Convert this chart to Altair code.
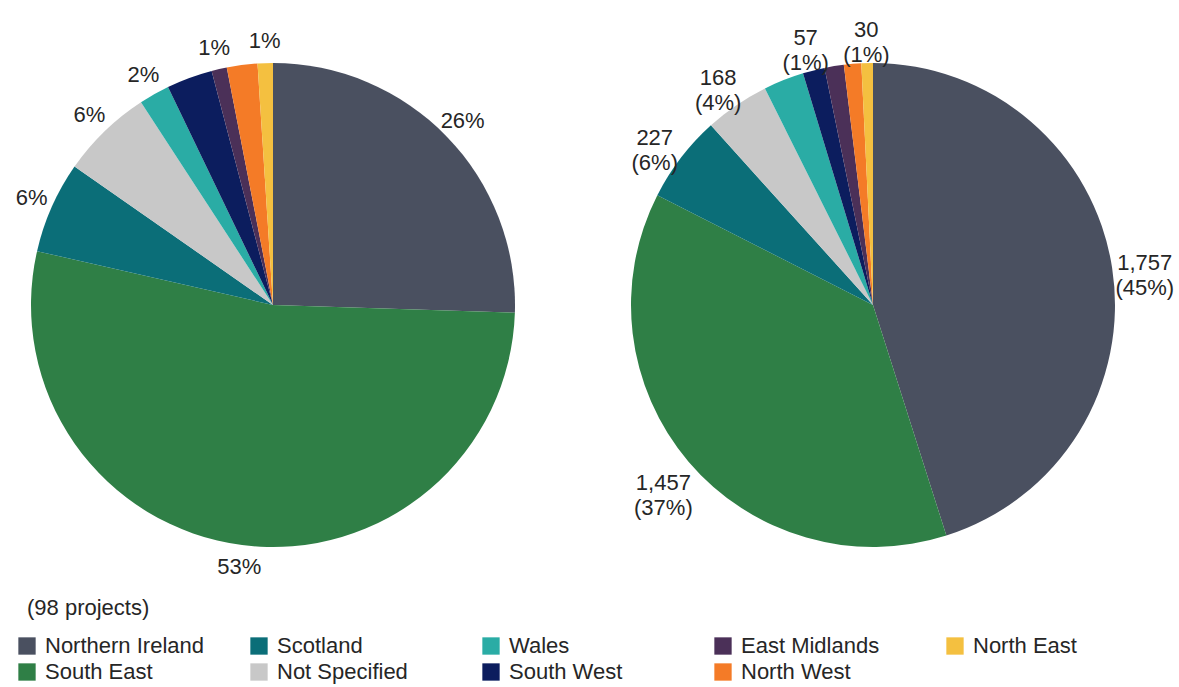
import altair as alt
import pandas as pd

regions = ["Northern Ireland", "South East", "Scotland", "Not Specified", "Wales",
           "South West", "East Midlands", "North West", "North East"]
left_counts = [25, 52, 6, 6, 2, 3, 1, 2, 1]
left_labels = ["26%", "53%", "6%", "6%", "2%", "", "1%", "", "1%"]
right_counts = [1757, 1457, 227, 168, 105, 57, 50, 45, 30]
right_labels = ["1,757\n(45%)", "1,457\n(37%)", "227\n(6%)", "168\n(4%)", "",
                "57\n(1%)", "", "", "30\n(1%)"]
note = ["(98 projects)"]

region_colors = ["#4a5060", "#2f7f46", "#0b6e78", "#c8c8c8", "#2aaca5",
                 "#0c1d5e", "#4b3058", "#f47b27", "#f4c040"]

FONT = "Liberation Sans"
TXT = "#262626"

left_df = pd.DataFrame({"region": regions, "value": left_counts,
                        "label": left_labels, "idx": list(range(len(regions)))})
right_df = pd.DataFrame({"region": regions, "value": right_counts,
                         "label": right_labels, "idx": list(range(len(regions)))})
note_df = pd.DataFrame({"note": note})

color = alt.Color(
    "region:N",
    scale=alt.Scale(domain=regions, range=region_colors),
    legend=alt.Legend(
        title=None, orient="none", legendX=16, legendY=635, columns=5,
        symbolType="square", symbolSize=300, symbolStrokeWidth=0,
        labelFontSize=22, labelFont=FONT, labelColor=TXT, labelLimit=400,
        gridAlign="all", columnPadding=44, rowPadding=4, labelOffset=7,
        padding=0,
    ),
)


def pie(df, cx, cy, r, lr):
    theta = alt.Theta("value:Q", stack=True)
    arcs = alt.Chart(df).mark_arc(radius=r, stroke=None).encode(
        theta=theta, color=color, order=alt.Order("idx:Q"),
        x=alt.value(cx), y=alt.value(cy),
    )
    text = alt.Chart(df).mark_text(
        radius=lr, fontSize=22, font=FONT, color=TXT, lineBreak="\n",
        align="center", baseline="middle", lineHeight=25,
    ).encode(
        theta=theta, order=alt.Order("idx:Q"), text="label:N",
        x=alt.value(cx), y=alt.value(cy),
    )
    return alt.layer(arcs, text)


left = pie(left_df, 273, 305, 242, 264)
right = pie(right_df, 873, 305, 242, 275)

note_text = alt.Chart(note_df).mark_text(
    fontSize=22, font=FONT, color=TXT, align="left", baseline="middle",
).encode(text="note:N", x=alt.value(27), y=alt.value(608))

chart = alt.layer(left, right, note_text).resolve_scale(theta="independent").properties(
    width=1179, height=687, autosize=alt.AutoSizeParams(type="none"), padding=0,
    background="white",
).configure_view(stroke=None)

chart.save("out.html", embed_options={"renderer": "svg", "actions": False})
